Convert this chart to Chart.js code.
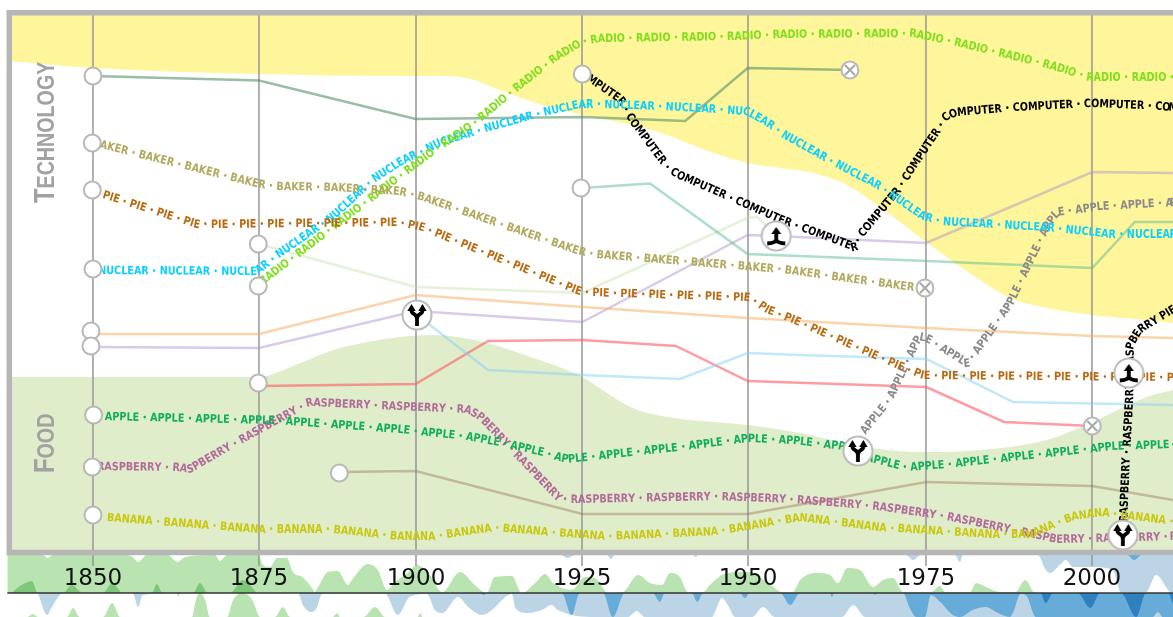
<!DOCTYPE html>
<html>
<head>
<meta charset="utf-8">
<title>Technology and food timeline</title>
<script src="https://cdn.jsdelivr.net/npm/chart.js@4/dist/chart.umd.min.js"></script>
<style>
  html, body { margin: 0; padding: 0; background: #fff; }
  canvas { display: block; }
</style>
</head>
<body>
<canvas id="timeline" width="1173" height="617"></canvas>
<script>
// Axis: the drawn year lines are not evenly spaced in the picture
const tickPositions = [1850, 1875, 1898.65, 1923.65, 1948.65, 1975.45, 2000.45];
const tickLabels = ['1850', '1875', '1900', '1925', '1950', '1975', '2000'];
const sectionLabels = ['TECHNOLOGY', 'FOOD'];

// Background bands [year, height]
const technologyEdge = [[1837.2, 489], [1850, 482], [1875, 476], [1896.2, 474], [1901.2, 474], [1906.3, 472], [1911.3, 460], [1916.3, 448], [1923.7, 435], [1931.3, 425], [1936.5, 415], [1941.4, 402], [1948.6, 387], [1953.5, 382], [1958.4, 377], [1963.6, 365], [1968.5, 343], [1975.5, 308], [1978.6, 293], [1983.6, 270], [1988.1, 252], [1993.7, 242], [2000.5, 235], [2008.7, 230], [2012.7, 227]];
const foodEdge = [[1837.2, 173], [1875, 173], [1876.2, 174], [1881.2, 187], [1886.2, 200], [1891.3, 208], [1896.2, 213], [1901.2, 215], [1908.7, 208], [1916.3, 192], [1923.7, 173], [1927.4, 157], [1931.3, 142], [1936.5, 133], [1948.6, 125], [1956.5, 117], [1966, 103], [1975.5, 98], [1983.6, 100], [1993.7, 110], [2000.5, 128], [2008.7, 153], [2012.7, 160]];

// Unlabelled thin lines
const sageLine = [[1850, 474], [1875, 469.5], [1898.6, 431], [1923.7, 433], [1939.2, 429], [1948.6, 482], [1964, 480]];
const mintLine = [[1923.7, 362], [1933.9, 366.5], [1948.6, 296], [1975.5, 289], [2000.5, 282], [2006.9, 328], [2012.7, 328]];
const paleLine = [[1875, 306], [1898.6, 263], [1923.7, 257], [1948.6, 332], [1950, 333], [1952.9, 315]];
const peachLine = [[1849.7, 216], [1875, 216], [1898.6, 255], [1923.7, 243], [1948.6, 232], [1975.5, 222], [2000.5, 214], [2012.7, 212]];
const lavenderLine = [[1849.7, 203], [1875, 202], [1898.6, 239], [1923.7, 228], [1948.6, 315], [1952.9, 314], [1975.5, 307], [2000.5, 378], [2012.7, 377]];
const skyLine = [[1898.8, 235], [1909.5, 180], [1923.7, 175], [1938.4, 171], [1948.6, 197], [1956.5, 195], [1975.5, 191], [1988.6, 148], [2012.7, 145]];
const redLine = [[1875, 164], [1898.6, 166], [1909.5, 209], [1923.7, 210], [1937.8, 204], [1948.6, 169], [1975.5, 163], [1987.2, 128], [2000.5, 124]];
const tanLine = [[1887.1, 78], [1898.6, 79], [1923.7, 36], [1948.6, 36], [1975.5, 68], [2000.5, 64], [2012.7, 50]];

// Lines made of repeated words
const radioPath = [[1875.3, 267], [1896.2, 373], [1901.2, 398], [1907.2, 425], [1913.9, 462], [1919.9, 493], [1923.8, 508], [1926.4, 511], [1946.4, 513], [1953.5, 515], [1973.5, 516], [1980.1, 507], [1993.7, 485], [2000.2, 472], [2012.7, 472]];
const nuclearPath = [[1850.8, 279], [1874.7, 278], [1875.8, 284], [1878.6, 298], [1886.2, 333], [1892.2, 370], [1896.2, 387], [1902.3, 407], [1908.7, 420], [1917.8, 437], [1923.3, 445], [1927.4, 445], [1938.9, 442], [1948.5, 438], [1951.5, 427], [1954.5, 413], [1959.9, 393], [1968.5, 363], [1975, 333], [1978, 328], [1993.7, 322], [2003.6, 315], [2012.7, 315]];
const bakerPath = [[1850, 407], [1875.2, 365], [1877.7, 363], [1886.2, 362], [1896.2, 358], [1899.3, 353], [1923.3, 298], [1925.9, 295], [1938.9, 288], [1953.9, 280], [1973.5, 262]];
const piePath = [[1851.5, 355], [1865.7, 325], [1868.1, 325], [1896.2, 327], [1899.7, 322], [1923.3, 258], [1924.9, 257], [1948.9, 252], [1951.5, 240], [1955.4, 230], [1972, 182], [1975, 174], [1992.6, 173], [2012.7, 172]];
const computerPath = [[1922.6, 481], [1929.4, 450], [1931.3, 428], [1936.5, 382], [1938, 375], [1953.5, 330], [1964.8, 302], [1965.5, 313], [1971.1, 358], [1978.6, 433], [1980.1, 437], [1988.6, 442], [2000.2, 446], [2008.7, 444], [2012.7, 442]];
const applePath = [[1851.8, 133], [1877.1, 129], [1886.2, 125], [1896.2, 120], [1906.3, 113], [1911.3, 107], [1917.8, 97], [1921.4, 90], [1938, 102], [1948.6, 111], [1955.4, 109], [1963, 103], [1966.6, 92], [1972.6, 82], [1978.6, 85], [2003.6, 103], [2012.7, 105]];
const raspberryPath = [[1850.6, 83], [1862.7, 82], [1864.6, 80], [1871.1, 105], [1880.7, 140], [1882.7, 147], [1896.2, 143], [1906.3, 140], [1908.3, 133], [1920.3, 50], [1922.9, 50], [1944, 53], [1955.4, 50], [1968.1, 43], [1978.6, 33], [1989.6, 18], [1995.2, 10], [2012.7, 13]];
const bananaPath = [[1852.1, 32], [1875.2, 20], [1886.2, 20], [1896.2, 13], [1901.2, 13], [1910.5, 22], [1919.3, 17], [1927.4, 13], [1944, 18], [1956.5, 32], [1968.5, 22], [1985.5, 15], [1991.1, 15], [1997.6, 33], [2002.1, 37], [2012.7, 28]];
const grayApplePath = [[1966, 117], [1970, 150], [1974.5, 213], [1975.8, 210], [1981.6, 186], [1982.2, 190], [1988.1, 245], [1993.7, 323], [1995.2, 337], [2001.7, 343], [2012.7, 347]];
const blackRaspberryPath = [[2005.3, 28], [2005.7, 90], [2006.2, 150], [2006.3, 205], [2007.7, 220], [2012.7, 240]];

// Markers
const startMarkers = [[1850, 474], [1849.9, 407], [1849.9, 360], [1850, 281], [1849.7, 219], [1849.7, 204], [1850.1, 135], [1849.9, 83], [1850, 35], [1874.9, 306], [1874.9, 264], [1874.9, 167], [1887.1, 77], [1923.7, 476], [1923.5, 362]];
const endMarkers = [[1964, 480], [1975.3, 262], [2000.5, 124]];
const splitMarkers = [[1898.8, 235], [1965.2, 99], [2005.1, 15]];
const mergeMarkers = [[1952.9, 314], [2006, 177]];

// Strip above the baseline
const stripGreen = [[1837.1, -5], [1842.5, -5], [1843.1, -8], [1844, -5], [1855.1, -5], [1856, -7], [1856.8, -12], [1858.1, -5], [1861.3, -5], [1862.7, -12], [1863.9, -7], [1868.4, -5], [1869.1, -11], [1870.2, -5], [1874.9, -5], [1875.6, -15], [1876.7, -17], [1877.7, -8], [1879.2, -8], [1880.1, -22], [1881.5, -27], [1883, -38], [1883.4, -42], [1883.9, -37], [1885.4, -22], [1886.9, -21], [1888.4, -35], [1889, -30], [1891.4, -14], [1892.9, -20], [1894.3, -40], [1895.5, -32], [1897.4, -23], [1898.8, -15], [1900.5, -23], [1902.6, -42], [1905.3, -22], [1907.5, -35], [1909.3, -43], [1910.5, -27], [1913.1, -26], [1914.6, -43], [1916.6, -33], [1918.1, -24], [1919.3, -33], [1922.1, -40], [1924.1, -27], [1925.6, -28], [1927.6, -43], [1929.8, -42], [1932.1, -25], [1933.9, -33], [1935.7, -35], [1936.9, -23], [1938.4, -27], [1939.6, -42], [1941.9, -42], [1942.9, -35], [1945.5, -23], [1948.5, -22], [1951.5, -32], [1953.8, -42], [1955.4, -42], [1956.5, -30], [1959, -23], [1961, -25], [1962.2, -33], [1963.6, -18], [1965.5, -20], [1967.5, -37], [1969, -30], [1970.5, -28], [1972, -42], [1976.2, -42], [1977.6, -36], [1978.3, -42], [1982.1, -42], [1983, -33], [1984.5, -37], [1986.6, -42], [1988.9, -42], [1990.4, -30], [1991.9, -43], [2012.7, -43]];
const stripDarkGreen = [[1837.1, -43], [1837.5, -43], [1839, -36], [1840.8, -31], [1841.7, -43], [1845.5, -43], [1846.8, -35], [1848.5, -43], [1851.5, -43], [1852.9, -33], [1854.5, -43], [1858.9, -43], [1859.6, -34], [1860.5, -43], [1865.1, -43], [1866.1, -33], [1867.3, -43], [1870.6, -43], [1872.6, -30], [1874.7, -43]];
const stripBlue = [[1920.6, -5], [1921.5, -8], [1922.6, -5], [1927.4, -5], [1928, -9], [1928.6, -5], [1940.4, -5], [1940.8, -7], [1941.1, -5], [1972.4, -5], [1973.5, -10], [1974.7, -5], [1979.8, -5], [1980.6, -12], [1981, -5], [1992.3, -5], [1993.5, -20], [1994.1, -23], [1995.6, -15], [1996.5, -10], [1997.6, -17], [2000.6, -17], [2003.6, -20], [2004.8, -42], [2008.6, -42], [2010.1, -25], [2012.2, -42], [2012.7, -43]];
const stripMidBlue = [[2005.9, -5], [2006.8, -10], [2007.8, -5]];

// Strip below the baseline
const lowerBlue = [[1841.7, -43], [1843.1, -65], [1843.8, -57], [1845.5, -43], [1856, -43], [1856.8, -57], [1857.5, -45], [1862.7, -43], [1862.8, -47], [1863.1, -43], [1880.9, -43], [1881.6, -55], [1883, -62], [1883.7, -58], [1884.5, -44], [1894, -44], [1895.9, -65], [1897.7, -47], [1900.3, -44], [1901.5, -60], [1902.6, -63], [1905, -47], [1906.5, -57], [1908.6, -65], [1910.1, -60], [1912.1, -47], [1913.1, -44], [1913.6, -58], [1915.5, -63], [1917.6, -60], [1919.1, -55], [1920, -60], [1925.6, -67], [1930.6, -67], [1931.9, -61], [1933.1, -67], [1943.2, -67], [1944.1, -55], [1944.7, -48], [1945.6, -55], [1946.7, -67], [1949.3, -67], [1950.9, -57], [1952.7, -67], [1962.8, -67], [1964.5, -55], [1966.3, -67], [2012.7, -67]];
const lowerMidBlue = [[1908.3, -43], [1908.9, -45], [1909.3, -43], [1920.6, -43], [1922.1, -65], [1923.3, -43], [1926.8, -43], [1928.3, -67], [1930.1, -43], [1934.3, -43], [1935.4, -52], [1936.1, -43], [1940.2, -43], [1941, -52], [1941.9, -43], [1947.4, -43], [1948.2, -48], [1948.9, -43], [1953.5, -43], [1955, -55], [1956.5, -43], [1961, -43], [1961.3, -47], [1961.6, -43], [1967.5, -43], [1967.8, -45], [1968.1, -43], [1972, -43], [1973, -58], [1974, -67], [1975.3, -67], [1976.2, -45], [1977.6, -52], [1979.5, -65], [1980.6, -67], [1982.5, -60], [1984.5, -57], [1986, -62], [1988.1, -67], [1988.6, -62], [1989.7, -44], [1990.6, -46], [1992, -67], [2009.6, -67], [2010.4, -62], [2011.1, -67], [2012.7, -67]];
const lowerDarkBlue = [[1992.8, -43], [1993.5, -53], [1994.6, -43], [1998.3, -43], [2000.2, -58], [2001.7, -43], [2004.8, -43], [2007.1, -67], [2008.6, -43], [2011.9, -43], [2012.7, -55]];
const lowerGreen = [[1840.2, -67], [1841, -64], [1841.7, -67], [1846.1, -67], [1847, -58], [1848, -67], [1851.5, -67], [1852.9, -53], [1854.1, -67], [1864.9, -67], [1865.5, -50], [1866.1, -43], [1866.9, -50], [1867.6, -67], [1870.2, -67], [1871.1, -50], [1872.6, -43], [1874, -50], [1875.2, -67], [1877.4, -67], [1878.6, -57], [1879.7, -67], [1886.1, -67], [1886.8, -63], [1887.2, -67], [1890.7, -67], [1892.5, -57], [1894, -67], [1898.9, -67], [1899.3, -63], [1899.6, -67]];

const xy = pts => pts.map(([x, y]) => ({ x, y }));

function iconCanvas(kind) {
    const c = document.createElement('canvas');
    c.width = 32;
    c.height = 32;
    const g = c.getContext('2d');
    g.beginPath();
    g.arc(16, 16, 14.5, 0, Math.PI * 2);
    g.fillStyle = '#fff';
    g.fill();
    g.lineWidth = 2;
    g.strokeStyle = '#bcbcbc';
    g.stroke();
    g.strokeStyle = '#000';
    g.fillStyle = '#000';
    g.lineWidth = 3.8;
    const head = (x, y, half) => {
        g.beginPath();
        g.moveTo(x, y - 5);
        g.lineTo(x + half, y + 2);
        g.lineTo(x - half, y + 2);
        g.closePath();
        g.fill();
    };
    g.beginPath();
    if (kind === 'split') {
        g.moveTo(16, 27);
        g.lineTo(16, 20);
        g.quadraticCurveTo(16, 17, 13, 15);
        g.quadraticCurveTo(10.5, 14, 10.5, 11);
        g.moveTo(16, 20);
        g.quadraticCurveTo(16, 17, 19, 15);
        g.quadraticCurveTo(21.5, 14, 21.5, 11);
        g.stroke();
        head(10.5, 10, 4.2);
        head(21.5, 10, 4.2);
    } else {
        g.moveTo(16, 13);
        g.lineTo(16, 19);
        g.quadraticCurveTo(16, 23, 7, 23.5);
        g.moveTo(16, 19);
        g.quadraticCurveTo(16, 23, 25, 23.5);
        g.stroke();
        head(16, 12, 5);
    }
    return c;
}

// Draws the word repeated along a dataset's own points
const wordStretch = 0.93;
const wordFont = 'bold 11.5px "DejaVu Sans Condensed", "DejaVu Sans"';
const dotFont = 'bold 8px "DejaVu Sans Condensed", "DejaVu Sans"';
const wordPathPlugin = {
    id: 'wordPath',
    afterDatasetDraw(chart, args) {
        const ds = chart.data.datasets[args.index];
        if (!ds.wordText) return;
        const pts = args.meta.data.map(p => ({ x: p.x, y: p.y }));
        const lens = [0];
        for (let i = 1; i < pts.length; i++) {
            lens.push(lens[i - 1] + Math.hypot(pts[i].x - pts[i - 1].x, pts[i].y - pts[i - 1].y));
        }
        const total = lens[lens.length - 1];
        const at = s => {
            s = Math.max(0, Math.min(total, s));
            let i = 1;
            while (i < lens.length - 1 && lens[i] < s) i++;
            const t = (s - lens[i - 1]) / ((lens[i] - lens[i - 1]) || 1);
            return { x: pts[i - 1].x + (pts[i].x - pts[i - 1].x) * t, y: pts[i - 1].y + (pts[i].y - pts[i - 1].y) * t };
        };
        const ctx = chart.ctx;
        ctx.save();
        ctx.fillStyle = ds.wordColor;
        ctx.textAlign = 'center';
        ctx.textBaseline = 'middle';
        let s = 0;
        let i = 0;
        const text = ds.wordText;
        while (s < total) {
            const ch = text[i % text.length];
            ctx.font = ch === '•' ? dotFont : wordFont;
            const w = ctx.measureText(ch).width * wordStretch;
            if (ch !== ' ') {
                const a = at(s - 1);
                const b = at(s + w + 1);
                const m = at(s + w / 2);
                ctx.save();
                ctx.translate(m.x, m.y);
                ctx.rotate(Math.atan2(b.y - a.y, b.x - a.x));
                ctx.scale(wordStretch, 1);
                ctx.fillText(ch, 0, 0);
                ctx.restore();
            }
            s += w;
            i++;
        }
        ctx.restore();
    }
};

// TECHNOLOGY / FOOD running up the left side, first letter larger
const sectionLabelPlugin = {
    id: 'sectionLabels',
    afterDatasetsDraw(chart) {
        const { ctx, scales } = chart;
        const spots = [[1844.1, 347], [1844.1, 77]];
        ctx.save();
        ctx.fillStyle = '#a2a2a2';
        ctx.textBaseline = 'alphabetic';
        ctx.textAlign = 'left';
        sectionLabels.forEach((label, i) => {
            ctx.save();
            ctx.translate(scales.x.getPixelForValue(spots[i][0]), scales.y.getPixelForValue(spots[i][1]));
            ctx.rotate(-Math.PI / 2);
            ctx.scale(0.82, 1);
            ctx.font = 'bold 29px "Liberation Sans"';
            ctx.fillText(label[0], 0, 0);
            const w = ctx.measureText(label[0]).width;
            ctx.font = 'bold 24px "Liberation Sans"';
            ctx.fillText(label.slice(1), w, 0);
            ctx.restore();
        });
        ctx.restore();
    }
};

const band = (data, color, target, order) => ({
    data: xy(data),
    backgroundColor: color,
    borderWidth: 0,
    pointRadius: 0,
    fill: { target: { value: target } },
    cubicInterpolationMode: 'monotone',
    order
});
const thinLine = (data, color) => ({
    data: xy(data),
    borderColor: color,
    borderWidth: 2.5,
    pointRadius: 0,
    fill: false,
    order: 50
});
const wordLine = (data, text, color) => ({
    data: xy(data),
    showLine: false,
    pointRadius: 0,
    fill: false,
    wordText: text,
    wordColor: color,
    order: 40
});
const markers = (data, style, radius, color, order) => ({
    data: xy(data),
    showLine: false,
    fill: false,
    pointStyle: style,
    pointRadius: radius,
    pointBackgroundColor: '#fff',
    pointBorderColor: color,
    pointBorderWidth: 2,
    order
});

const yearLines = tickPositions.map(t => ({
    data: xy([[t, 535], [t, -16]]),
    borderColor: 'rgba(150,150,150,0.75)',
    borderWidth: 2,
    pointRadius: 0,
    fill: false,
    order: 60
}));

new Chart(document.getElementById('timeline'), {
    type: 'line',
    data: {
        datasets: [
            band(technologyEdge, '#fff59b', 540, 100),
            band(foodEdge, '#e0edcb', 0, 100),
            band(stripGreen, '#b9e3b0', -43, 99),
            band(stripDarkGreen, '#7cc878', -43, 98),
            band(stripBlue, '#bbd5e6', -5, 99),
            band(stripMidBlue, '#67acd8', -5, 98),
            band(lowerBlue, '#bbd5e6', -43, 97),
            band(lowerMidBlue, '#67acd8', -43, 96),
            band(lowerDarkBlue, '#2f80bf', -43, 95),
            band(lowerGreen, '#b9e3b0', -67, 96),
            ...yearLines,
            thinLine(sageLine, 'rgba(85,145,105,0.6)'),
            thinLine(mintLine, 'rgba(90,190,145,0.5)'),
            thinLine(paleLine, 'rgba(190,220,160,0.4)'),
            thinLine(peachLine, 'rgba(250,170,90,0.5)'),
            thinLine(lavenderLine, 'rgba(170,140,205,0.45)'),
            thinLine(skyLine, 'rgba(130,210,245,0.5)'),
            thinLine(redLine, 'rgba(255,90,100,0.6)'),
            thinLine(tanLine, 'rgba(160,120,90,0.45)'),
            wordLine(bananaPath, 'BANANA • ', '#c9c80f'),
            wordLine(bakerPath, 'BAKER • ', '#b3a95e'),
            wordLine(piePath, 'PIE • ', '#b96a10'),
            wordLine(applePath, 'APPLE • ', '#10ae5a'),
            wordLine(raspberryPath, 'RASPBERRY • ', '#b26a9b'),
            wordLine(radioPath, 'RADIO • ', '#7fe01a'),
            wordLine(nuclearPath, 'NUCLEAR • ', '#0bd0ff'),
            wordLine(grayApplePath, 'APPLE • ', '#8a8a8a'),
            wordLine(computerPath, 'COMPUTER • ', '#000'),
            wordLine(blackRaspberryPath, 'RASPBERRY • RASPBERRY • RASPBERRY PIE • ', '#000'),
            {
                // Frame round the plot, open at the right
                data: xy([[2013, 537.2], [1837.4, 537.2], [1837.4, -2.5], [2013, -2.5]]),
                borderColor: '#b6b6b6',
                borderWidth: 5.5,
                borderJoinStyle: 'miter',
                pointRadius: 0,
                fill: false,
                order: 30
            },
            {
                // Strip baseline
                data: xy([[1837.1, -43], [2013, -43]]),
                borderColor: '#333',
                borderWidth: 1.4,
                pointRadius: 0,
                fill: false,
                order: 29
            },
            markers(startMarkers, 'circle', 8.5, '#b8b8b8', 5),
            markers(endMarkers, 'circle', 8.5, '#b8b8b8', 5),
            markers(endMarkers, 'crossRot', 7, '#a8a8a8', 4),
            markers(splitMarkers, iconCanvas('split'), 15, '#b8b8b8', 3),
            markers(mergeMarkers, iconCanvas('merge'), 15, '#b8b8b8', 3)
        ]
    },
    options: {
        responsive: false,
        animation: false,
        events: [],
        layout: { padding: 0, autoPadding: false },
        plugins: { legend: { display: false }, tooltip: { enabled: false } },
        scales: {
            x: {
                type: 'linear',
                min: 1836,
                max: 2012.656,
                grid: { display: false, drawTicks: false },
                border: { display: false },
                afterBuildTicks: axis => { axis.ticks = tickPositions.map(value => ({ value })); },
                afterFit: axis => { axis.height = 0; },
                ticks: {
                    z: 1,
                    mirror: true,
                    autoSkip: false,
                    maxRotation: 0,
                    padding: 24,
                    color: '#111',
                    font: { family: 'DejaVu Sans', size: 23 },
                    callback: (value, index) => tickLabels[index]
                }
            },
            y: { display: false, min: -67, max: 550 }
        }
    },
    plugins: [wordPathPlugin, sectionLabelPlugin]
});
</script>
</body>
</html>
